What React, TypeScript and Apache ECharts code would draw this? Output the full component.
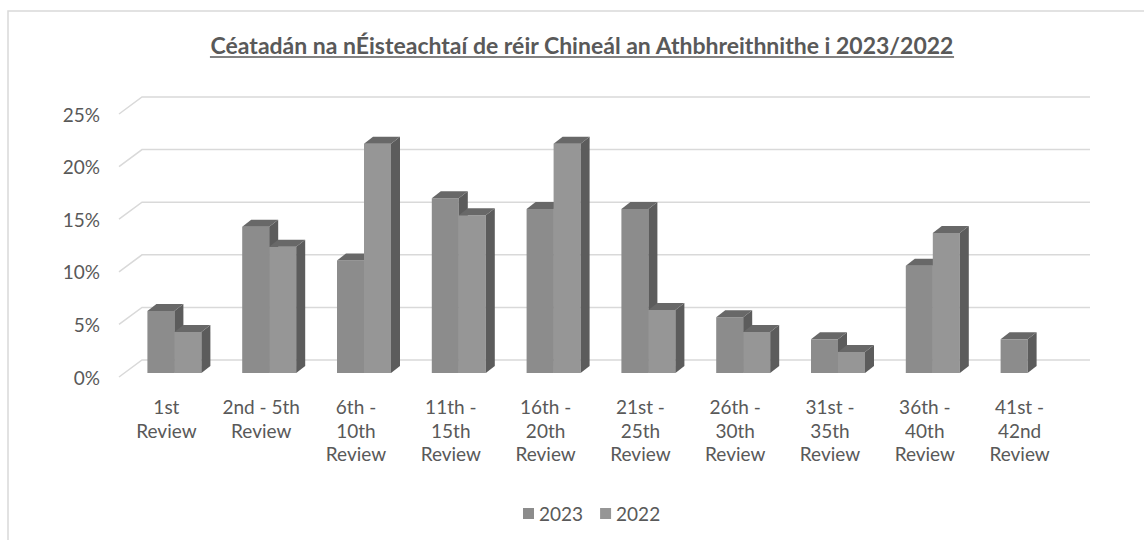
import React, { useEffect, useRef } from "react";
import * as echarts from "echarts";

const categories = [
  "1st\nReview",
  "2nd - 5th\nReview",
  "6th -\n10th\nReview",
  "11th -\n15th\nReview",
  "16th -\n20th\nReview",
  "21st -\n25th\nReview",
  "26th -\n30th\nReview",
  "31st -\n35th\nReview",
  "36th -\n40th\nReview",
  "41st -\n42nd\nReview",
];
const values2023 = [5.9, 13.9, 10.7, 16.6, 15.6, 15.6, 5.3, 3.2, 10.2, 3.2];
const values2022 = [3.9, 12.0, 21.8, 15.0, 21.8, 6.0, 3.9, 2.0, 13.3, 0];
const yTicks = [0, 5, 10, 15, 20, 25];
const seriesNames = ["2023", "2022"];
const titleText = "Céatadán na nÉisteachtaí de réir Chineál an Athbhreithnithe i 2023/2022";

const FONT = "Lato, 'Liberation Sans', sans-serif";
const TEXT = "#595959";
const GRID = "#d9d9d9";

function measure(text: string, font: string): number {
  const c = document.createElement("canvas");
  const ctx = c.getContext("2d");
  if (!ctx) return 0;
  ctx.font = font;
  return ctx.measureText(text).width;
}

export default function App() {
  const ref = useRef<HTMLDivElement>(null);
  useEffect(() => {
    if (!ref.current) return;
    const chart = echarts.init(ref.current, undefined, { renderer: "svg" });
    const DX = 23;
    const DY = -17;
    const titleSize = 23;
    const titleCx = 582;
    const tw = measure(titleText, `bold ${titleSize}px Lato`);

    const barSeries = (idx: number, vals: number[], front: string) => ({
      type: "custom",
      name: seriesNames[idx],
      z: 3,
      itemStyle: { color: front },
      encode: { x: 0, y: 1 },
      data: vals.map((v, i) => [i, v]),
      renderItem: (params: any, api: any) => {
        const i = api.value(0);
        const v = api.value(1);
        if (!v) return null;
        const base = api.coord([i, 0]);
        const top = api.coord([i, v]);
        const w = 27;
        const x0 = base[0] + (idx === 0 ? -19 : 8);
        const yb = base[1] - 4;
        const yt = top[1] - 4;
        const dx = 9;
        const dy = -7;
        return {
          type: "group",
          children: [
            {
              type: "rect",
              shape: { x: x0, y: yt, width: w, height: yb - yt },
              style: { fill: front },
            },
            {
              type: "polygon",
              shape: {
                points: [
                  [x0 + w, yt],
                  [x0 + w + dx, yt + dy],
                  [x0 + w + dx, yb + dy],
                  [x0 + w, yb],
                ],
              },
              style: { fill: "#5c5c5c" },
            },
            {
              type: "polygon",
              shape: {
                points: [
                  [x0, yt],
                  [x0 + dx, yt + dy],
                  [x0 + w + dx, yt + dy],
                  [x0 + w, yt],
                ],
              },
              style: { fill: "#686868" },
            },
          ],
        };
      },
    });

    chart.setOption({
      animation: false,
      backgroundColor: "#ffffff",
      textStyle: { fontFamily: FONT },
      grid: { left: 119, top: 114, width: 948, height: 263 },
      legend: {
        top: 499,
        left: 518,
        icon: "rect",
        itemWidth: 11,
        itemHeight: 11,
        itemGap: 17,
        textStyle: { color: TEXT, fontSize: 19, fontFamily: FONT },
        data: seriesNames,
      },
      xAxis: {
        type: "category",
        data: categories,
        axisLine: { show: false },
        axisTick: { show: false },
        splitLine: { show: false },
        axisLabel: {
          color: TEXT,
          fontSize: 19,
          lineHeight: 23.5,
          margin: 18,
          interval: 0,
          fontFamily: FONT,
        },
      },
      yAxis: {
        type: "value",
        min: 0,
        max: 25,
        interval: 5,
        axisLine: { show: false },
        axisTick: { show: false },
        splitLine: { show: false },
        axisLabel: {
          formatter: "{value}%",
          color: TEXT,
          fontSize: 19,
          margin: 19,
          fontFamily: FONT,
        },
      },
      graphic: [
        {
          type: "rect",
          shape: { x: 8, y: 11, width: 1200, height: 600 },
          style: { fill: "none", stroke: GRID, lineWidth: 1.5 },
          silent: true,
        },
        {
          type: "text",
          x: titleCx,
          y: 45,
          style: {
            text: titleText,
            textAlign: "center",
            textVerticalAlign: "middle",
            fill: TEXT,
            font: `bold ${titleSize}px Lato`,
          },
        },
        {
          type: "line",
          shape: { x1: titleCx - tw / 2, y1: 57, x2: titleCx + tw / 2, y2: 57 },
          style: { stroke: TEXT, lineWidth: 1.5 },
        },
      ],
      series: [
        {
          type: "custom",
          name: "wall",
          z: 1,
          silent: true,
          encode: { x: 0, y: 1 },
          data: yTicks.map((t) => [0, t]),
          renderItem: (params: any, api: any) => {
            const v = api.value(1);
            const y = api.coord([0, v])[1];
            const cs = params.coordSys;
            return {
              type: "polyline",
              shape: {
                points: [
                  [cs.x, y],
                  [cs.x + DX, y + DY],
                  [cs.x + cs.width + DX, y + DY],
                ],
              },
              style: { stroke: GRID, lineWidth: 1.5, fill: "none" },
            };
          },
        },
        barSeries(0, values2023, "#8c8c8c"),
        barSeries(1, values2022, "#969696"),
      ],
    });
    return () => chart.dispose();
  }, []);
  return (
    <div
      ref={ref}
      style={{ position: "absolute", left: 0, top: 0, width: 1144, height: 540 }}
    />
  );
}
